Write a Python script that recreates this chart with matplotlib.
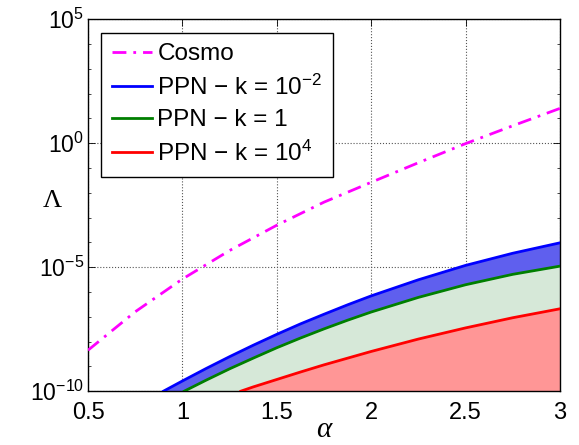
import numpy as np
import matplotlib
matplotlib.use('Agg')
import matplotlib.pyplot as plt
from matplotlib.ticker import LogFormatterMathtext, FixedLocator, NullFormatter

plt.rcParams['font.family'] = ['Liberation Sans', 'DejaVu Sans']
plt.rcParams['mathtext.fontset'] = 'custom'
plt.rcParams['mathtext.rm'] = 'Liberation Sans'
plt.rcParams['mathtext.it'] = 'Liberation Sans:italic'
plt.rcParams['mathtext.default'] = 'regular'

# curves, values given as log10(Lambda)
cosmoAlpha = [0.5, 0.75, 1.0, 1.25, 1.5, 1.75, 2.0, 2.25, 2.5, 2.75, 3.0]
cosmoLog = [-8.35, -6.8, -5.48, -4.33, -3.31, -2.38, -1.58, -0.79, -0.02, 0.7, 1.4]

blueAlpha = [0.9, 1.0, 1.125, 1.25, 1.375, 1.5, 1.625, 1.75, 1.875, 2.0, 2.25, 2.5, 2.75, 3.0]
blueLog = [-10.0, -9.59, -9.09, -8.61, -8.15, -7.71, -7.29, -6.90, -6.52, -6.16, -5.51, -4.93, -4.44, -4.02]

greenAlpha = [1.01, 1.125, 1.25, 1.375, 1.5, 1.625, 1.75, 1.875, 2.0, 2.25, 2.5, 2.75, 3.0]
greenLog = [-10.0, -9.56, -9.10, -8.67, -8.25, -7.86, -7.49, -7.14, -6.81, -6.22, -5.71, -5.29, -4.96]

redAlpha = [1.31, 1.375, 1.5, 1.625, 1.75, 1.875, 2.0, 2.25, 2.5, 2.75, 3.0]
redLog = [-10.0, -9.83, -9.53, -9.23, -8.94, -8.67, -8.40, -7.90, -7.45, -7.04, -6.68]

labels = ['Cosmo', 'PPN \u2212 k = 10$^{-2}$', 'PPN \u2212 k = 1', 'PPN \u2212 k = 10$^{4}$']

yMin, yMax = 1e-10, 1e5

fig = plt.figure(figsize=(5.79, 4.45), dpi=100)
ax = fig.add_axes([0.152, 0.121, 0.815, 0.836])

def toLin(v):
    return 10.0 ** np.array(v)

# filled bands, drawn from the top curve down so that each one covers the previous
ax.fill_between(blueAlpha, toLin(blueLog), yMin, color='#5f5fee', lw=0, zorder=1)
ax.fill_between(greenAlpha, toLin(greenLog), yMin, color='#d6e8d8', lw=0, zorder=1.1)
ax.fill_between(redAlpha, toLin(redLog), yMin, color='#ff9696', lw=0, zorder=1.2)

ax.plot(cosmoAlpha, toLin(cosmoLog), color='#ff00ff', ls=(0, (5, 2.5, 1, 2.5)), lw=2, label=labels[0], zorder=3)
ax.plot(blueAlpha, toLin(blueLog), color='#0000ff', lw=2, label=labels[1], zorder=3)
ax.plot(greenAlpha, toLin(greenLog), color='#007f00', lw=2, label=labels[2], zorder=3)
ax.plot(redAlpha, toLin(redLog), color='#ff0000', lw=2, label=labels[3], zorder=3)

ax.set_yscale('log')
ax.set_xlim(0.5, 3)
ax.set_ylim(yMin, yMax)
ax.set_xticks([0.5, 1, 1.5, 2, 2.5, 3])
ax.set_xticklabels(['0.5', '1', '1.5', '2', '2.5', '3'])
ax.yaxis.set_major_locator(FixedLocator([1e-10, 1e-5, 1e0, 1e5]))
ax.yaxis.set_major_formatter(LogFormatterMathtext())
ax.yaxis.set_minor_locator(FixedLocator(10.0 ** np.arange(-10, 6)))
ax.yaxis.set_minor_formatter(NullFormatter())

ax.tick_params(which='both', direction='in', top=True, right=True, labelsize=17)
ax.tick_params(axis='y', labelsize=16.5)
ax.tick_params(which='major', length=5, width=0.6)
ax.tick_params(which='minor', length=2.5, width=0.5)
ax.tick_params(axis='x', pad=7.5)
ax.tick_params(axis='y', pad=3)

ax.grid(True, which='major', ls=':', color='#555555', lw=0.8)
ax.set_axisbelow(True)
for s in ax.spines.values():
    s.set_linewidth(1.0)

ax.set_xlabel('\u03b1', family='Liberation Serif', style='italic', fontsize=21, labelpad=-5)
ax.set_ylabel('\u039b', family='Liberation Serif', fontsize=19, rotation=0, va='center', ha='center')
ax.yaxis.set_label_coords(-0.076, 0.51)

leg = ax.legend(loc='upper left', fontsize=17.5, fancybox=False, framealpha=1, edgecolor='black',
                borderaxespad=0.55, handlelength=1.65, handletextpad=0.2, labelspacing=0.38,
                borderpad=0.45)
leg.get_frame().set_linewidth(1.0)
leg.set_zorder(5)

fig.savefig('out.png', dpi=100)
